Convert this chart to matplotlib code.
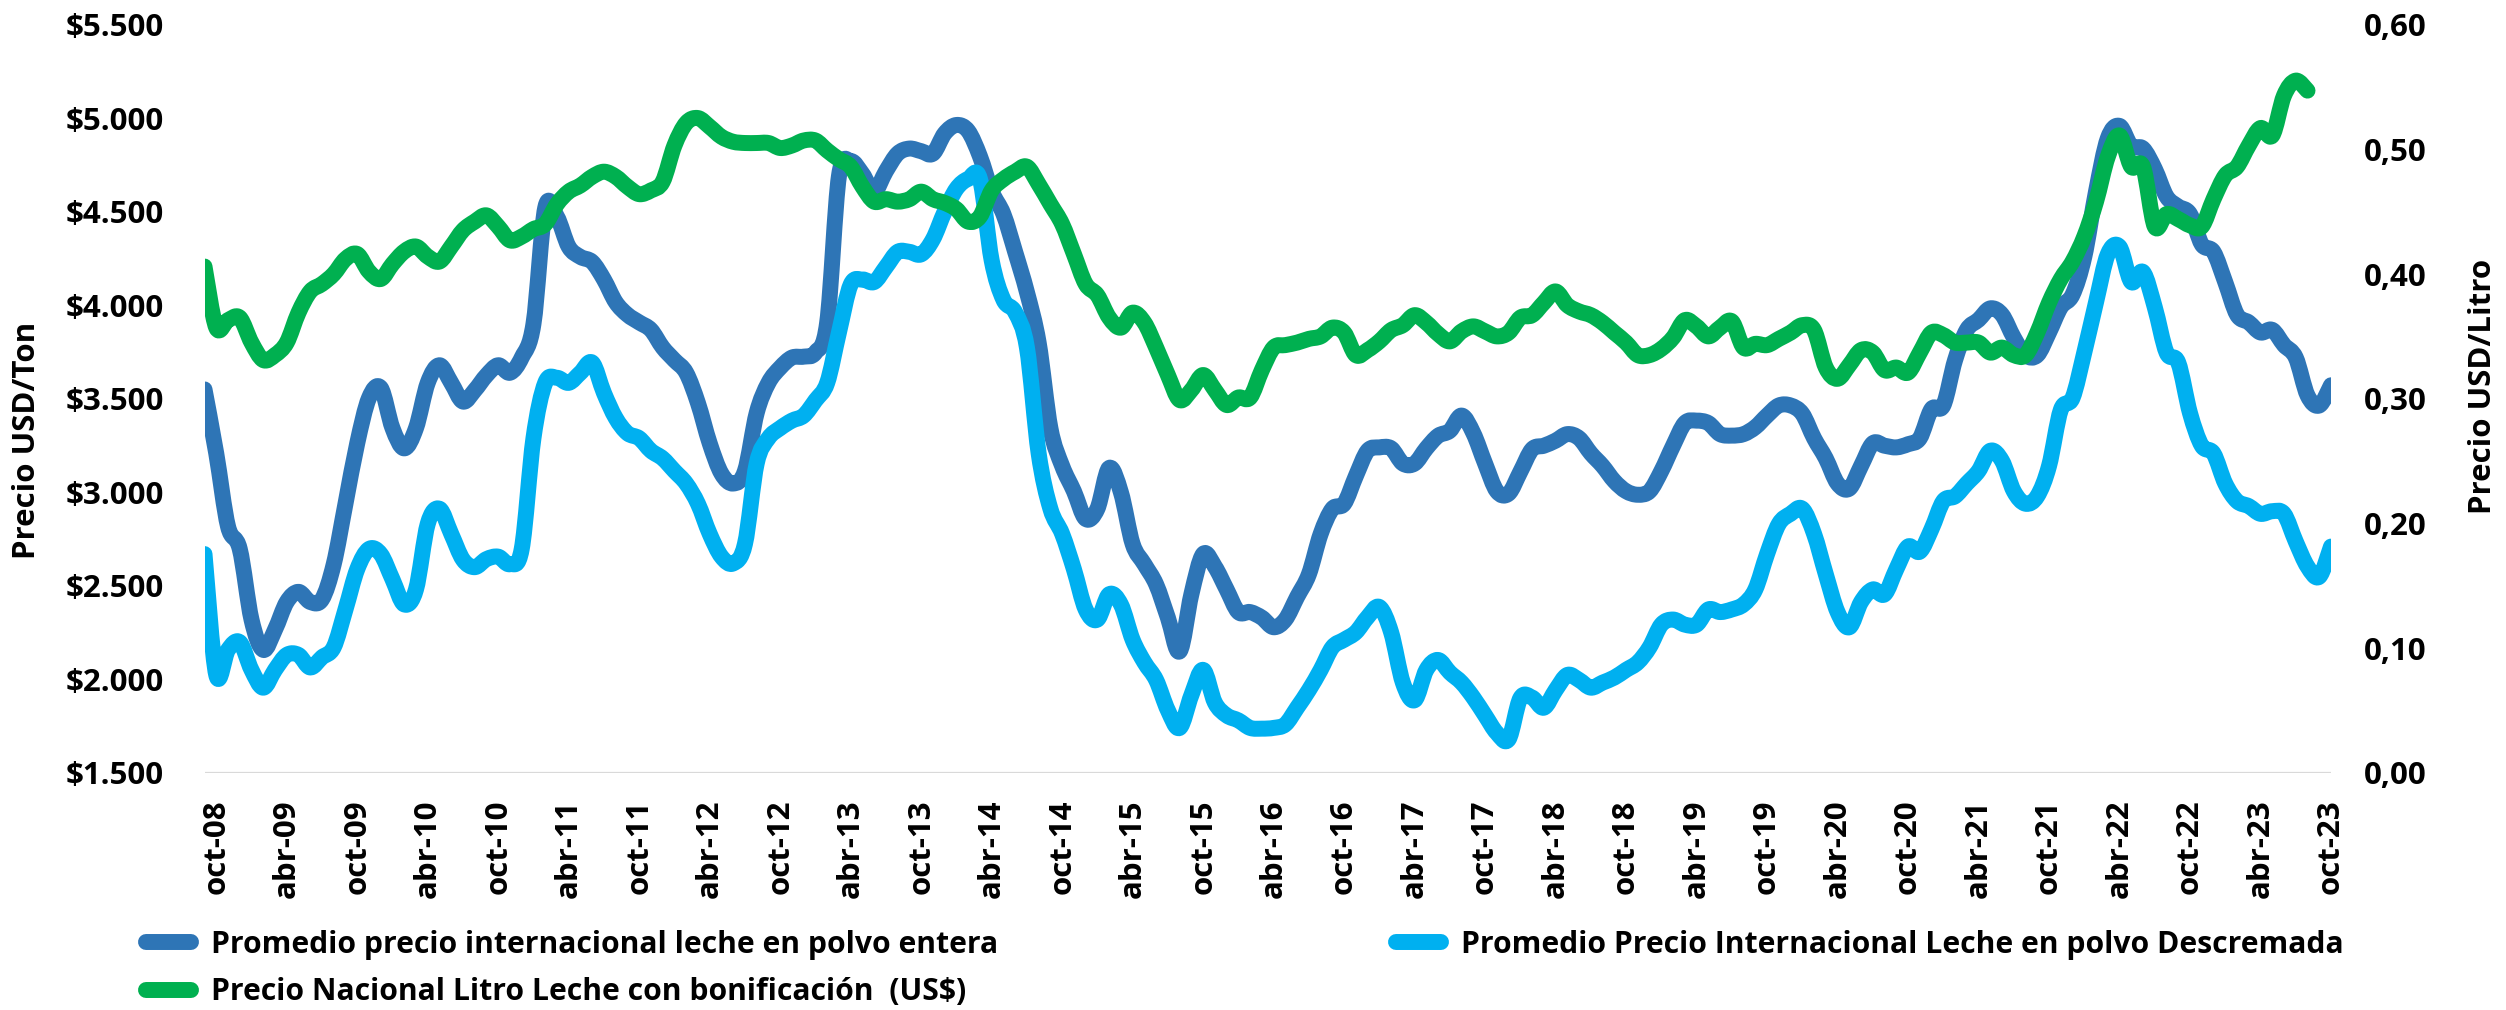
import numpy as np
import matplotlib.pyplot as plt
from matplotlib.path import Path
from matplotlib.patches import PathPatch
from matplotlib.lines import Line2D
from matplotlib.ticker import FixedLocator, FuncFormatter

plt.rcParams['font.family'] = ['Open Sans', 'DejaVu Sans']
plt.rcParams['font.weight'] = 'bold'

# serie mensual sep-08 .. oct-23
# USD/Ton, leche en polvo entera
entera = [
    3550, 3208, 2818, 2697, 2320, 2158, 2266, 2414, 2468, 2414, 2428, 2616,
    2939, 3262, 3504, 3558, 3343, 3235, 3343, 3585, 3679, 3585, 3485, 3545,
    3625, 3679, 3639, 3720, 3900, 4520, 4473, 4312, 4258, 4231, 4137, 4016,
    3949, 3908, 3868, 3774, 3706, 3639, 3477, 3262, 3100, 3047, 3114, 3424,
    3585, 3666, 3720, 3725, 3747, 3908, 4689, 4770, 4702, 4608, 4716, 4810,
    4837, 4823, 4810, 4918, 4963, 4931, 4796, 4608, 4487, 4285, 4070, 3800,
    3343, 3141, 3006, 2858, 2912, 3130, 3000, 2724, 2616, 2508, 2330, 2150,
    2455, 2670, 2603, 2481, 2360, 2360, 2330, 2279, 2320, 2441, 2562, 2777,
    2912, 2939, 3087, 3222, 3240, 3235, 3154, 3154, 3235, 3302, 3329, 3410,
    3316, 3154, 3006, 2993, 3110, 3230, 3249, 3276, 3311, 3289, 3208, 3141,
    3060, 3006, 2987, 3006, 3114, 3249, 3370, 3383, 3370, 3311, 3303, 3311,
    3348, 3410, 3464, 3464, 3420, 3289, 3181, 3047, 3020, 3141, 3262, 3249,
    3240, 3257, 3289, 3445, 3464, 3706, 3868, 3922, 3983, 3949, 3827, 3733,
    3733, 3854, 3989, 4056, 4258, 4608, 4891, 4958, 4850, 4837, 4729, 4581,
    4527, 4487, 4325, 4285, 4123, 3949, 3908, 3854, 3868, 3787, 3720, 3518,
    3464, 3572,
]
# USD/Ton, leche en polvo descremada
descremada = [
    2670, 2024, 2158, 2199, 2051, 1956, 2051, 2131, 2131, 2064, 2118, 2172,
    2374, 2589, 2697, 2670, 2535, 2401, 2481, 2831, 2912, 2778, 2640, 2600,
    2643, 2656, 2616, 2697, 3289, 3585, 3612, 3585, 3639, 3693, 3531, 3397,
    3316, 3289, 3222, 3181, 3114, 3047, 2939, 2778, 2656, 2620, 2724, 3154,
    3289, 3343, 3383, 3410, 3491, 3585, 3854, 4110, 4137, 4124, 4204, 4285,
    4285, 4272, 4352, 4500, 4622, 4675, 4675, 4240, 4029, 3962, 3774, 3208,
    2912, 2778, 2589, 2374, 2320, 2455, 2401, 2212, 2091, 1997, 1835, 1741,
    1916, 2051, 1876, 1808, 1781, 1741, 1737, 1741, 1760, 1849, 1943, 2051,
    2172, 2212, 2252, 2333, 2387, 2252, 1983, 1889, 2051, 2104, 2037, 1983,
    1903, 1808, 1714, 1680, 1900, 1903, 1849, 1943, 2024, 1997, 1956, 1983,
    2010, 2051, 2091, 2172, 2293, 2320, 2293, 2293, 2374, 2360, 2374, 2401,
    2481, 2670, 2831, 2885, 2912, 2778, 2562, 2360, 2279, 2414, 2481, 2455,
    2589, 2710, 2683, 2804, 2953, 2979, 3047, 3114, 3222, 3168, 3006, 2939,
    2979, 3141, 3440, 3504, 3747, 4016, 4272, 4312, 4124, 4177, 3989, 3747,
    3693, 3423, 3249, 3208, 3047, 2953, 2926, 2885, 2899, 2885, 2737, 2603,
    2549, 2710,
]
# USD/Litro, precio nacional (termina ago-23)
nacional = [
    0.406, 0.357, 0.363, 0.365, 0.345, 0.331, 0.335, 0.345, 0.369, 0.386, 0.392, 0.400,
    0.412, 0.416, 0.402, 0.396, 0.408, 0.418, 0.422, 0.414, 0.410, 0.422, 0.435, 0.442,
    0.447, 0.438, 0.427, 0.430, 0.436, 0.440, 0.456, 0.466, 0.471, 0.478, 0.482, 0.478,
    0.470, 0.464, 0.467, 0.474, 0.503, 0.521, 0.525, 0.518, 0.510, 0.506, 0.505, 0.505,
    0.505, 0.501, 0.503, 0.507, 0.507, 0.499, 0.492, 0.486, 0.470, 0.458, 0.460, 0.458,
    0.460, 0.466, 0.460, 0.457, 0.452, 0.442, 0.446, 0.467, 0.476, 0.482, 0.486, 0.472,
    0.456, 0.440, 0.416, 0.392, 0.383, 0.365, 0.357, 0.369, 0.361, 0.341, 0.319, 0.299,
    0.307, 0.319, 0.307, 0.295, 0.301, 0.301, 0.323, 0.341, 0.343, 0.345, 0.348, 0.350,
    0.357, 0.353, 0.335, 0.339, 0.346, 0.355, 0.359, 0.367, 0.361, 0.352, 0.346, 0.354,
    0.358, 0.354, 0.350, 0.353, 0.365, 0.367, 0.377, 0.386, 0.375, 0.370, 0.367, 0.361,
    0.353, 0.345, 0.335, 0.335, 0.340, 0.349, 0.363, 0.358, 0.350, 0.357, 0.362, 0.341,
    0.344, 0.343, 0.348, 0.353, 0.359, 0.355, 0.325, 0.316, 0.327, 0.339, 0.337, 0.323,
    0.325, 0.321, 0.337, 0.353, 0.351, 0.345, 0.345, 0.345, 0.337, 0.341, 0.335, 0.335,
    0.353, 0.377, 0.396, 0.410, 0.430, 0.458, 0.494, 0.511, 0.486, 0.486, 0.438, 0.448,
    0.444, 0.439, 0.438, 0.460, 0.479, 0.486, 0.503, 0.517, 0.511, 0.543, 0.555, 0.547,
]

tick_pos = list(range(1, 182, 6))
tick_labels = [
    "oct-08", "abr-09", "oct-09", "abr-10", "oct-10", "abr-11", "oct-11", "abr-12",
    "oct-12", "abr-13", "oct-13", "abr-14", "oct-14", "abr-15", "oct-15", "abr-16",
    "oct-16", "abr-17", "oct-17", "abr-18", "oct-18", "abr-19", "oct-19", "abr-20",
    "oct-20", "abr-21", "oct-21", "abr-22", "oct-22", "abr-23", "oct-23",
]
nombres = [
    "Promedio precio internacional leche en polvo entera",
    "Promedio Precio Internacional Leche en polvo Descremada",
    "Precio Nacional Litro Leche con bonificación  (US$)",
]

AZUL = "#2E75B6"
CELESTE = "#00B0F0"
VERDE = "#00B050"
FS = 22.5
FS_LEG = 21.7
LW = 11.5


def linea_suave(ax, y, color):
    """Linea suavizada tipo Excel: curvas Bezier (Catmull-Rom) entre los puntos."""
    y = np.asarray(y, dtype=float)
    x = np.arange(len(y), dtype=float)
    n = len(y)
    verts = [(x[0], y[0])]
    codes = [Path.MOVETO]
    for i in range(n - 1):
        a = max(i - 1, 0)
        b = min(i + 2, n - 1)
        c1 = (x[i] + (x[i + 1] - x[a]) / 6, y[i] + (y[i + 1] - y[a]) / 6)
        c2 = (x[i + 1] - (x[b] - x[i]) / 6, y[i + 1] - (y[b] - y[i]) / 6)
        verts += [c1, c2, (x[i + 1], y[i + 1])]
        codes += [Path.CURVE4] * 3
    ax.add_patch(PathPatch(Path(verts, codes), fill=False, edgecolor=color, lw=LW,
                           capstyle="round", joinstyle="round"))


W, H = 2506, 1010
fig = plt.figure(figsize=(W / 100, H / 100), dpi=100)
x0, x1, ytop, ybot = 204.5, 2331, 24.5, 773
ax = fig.add_axes([x0 / W, 1 - ybot / H, (x1 - x0) / W, (ybot - ytop) / H])
ax2 = ax.twinx()

linea_suave(ax, entera, AZUL)
linea_suave(ax, descremada, CELESTE)
linea_suave(ax2, nacional, VERDE)

ax.set_xlim(0, len(entera) - 1)
ax.set_ylim(1500, 5500)
ax2.set_ylim(0, 0.6)
ax.set_yticks(np.arange(1500, 5501, 500))
ax2.set_yticks(np.arange(0, 0.61, 0.1))
ax.yaxis.set_major_formatter(FuncFormatter(lambda v, p: "$" + f"{v:,.0f}".replace(",", ".")))
ax2.yaxis.set_major_formatter(FuncFormatter(lambda v, p: f"{v:.2f}".replace(".", ",")))
ax.xaxis.set_major_locator(FixedLocator(tick_pos))
ax.set_xticklabels(tick_labels, rotation=90, fontsize=FS, fontweight="bold")

ax.tick_params(axis="y", length=0, pad=29, labelsize=FS)
ax2.tick_params(axis="y", length=0, pad=24, labelsize=FS)
ax.tick_params(axis="x", length=0, pad=19)

for a in (ax, ax2):
    for s in ("top", "left", "right", "bottom"):
        a.spines[s].set_visible(False)
ax.axhline(1500, color="#D9D9D9", lw=1.6, zorder=0)

fig.text(27 / W, 1 - 440 / H, "Precio USD/Ton", rotation=90, fontsize=FS,
         fontweight="bold", ha="center", va="center")
fig.text(2483 / W, 1 - 386 / H, "Precio USD/Litro", rotation=90, fontsize=FS,
         fontweight="bold", ha="center", va="center")

handles = [Line2D([], [], color=c, lw=LW, solid_capstyle="round")
           for c in (AZUL, CELESTE, VERDE)]
# orden de columnas: entera y nacional a la izquierda, descremada a la derecha
leg = fig.legend([handles[0], handles[2], handles[1]],
                 [nombres[0], nombres[2], nombres[1]],
                 ncol=2, loc="upper left", bbox_to_anchor=(146 / W, 1 - 930 / H),
                 frameon=False, fontsize=FS_LEG, handlelength=1.49, handletextpad=0.66,
                 columnspacing=13.2, borderpad=0, borderaxespad=0, labelspacing=0.58)
for t in leg.get_texts():
    t.set_fontweight("bold")

fig.savefig("out.png", dpi=100)
